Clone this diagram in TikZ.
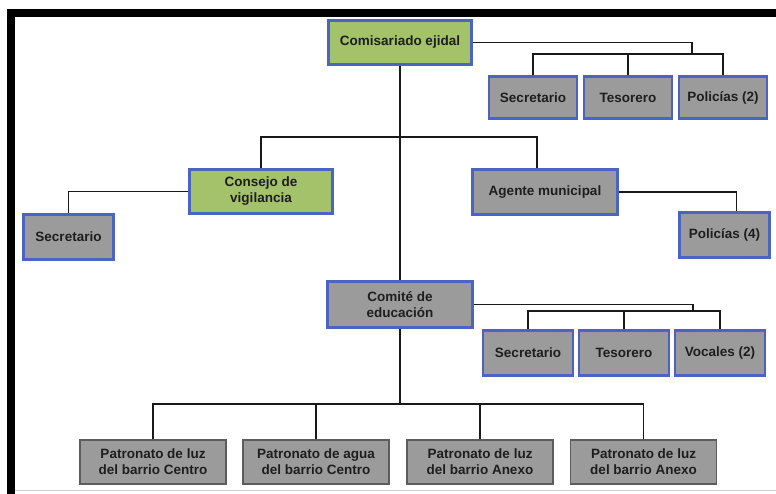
\documentclass[tikz,border=0pt]{standalone}
\usepackage{fontspec}
\setmainfont{Liberation Sans}
\definecolor{boxblue}{HTML}{4A64C4}
\definecolor{boxgreen}{HTML}{A3C26A}
\definecolor{boxgray}{HTML}{9B9B9B}
\definecolor{boxedge}{HTML}{5C5C5C}
\definecolor{txt}{HTML}{1E1E1E}
\begin{document}
\begin{tikzpicture}[x=1pt,y=-1pt,
        unit/.style={draw=boxblue, line width=2.6pt, fill=boxgray, text=txt,
            font=\fontsize{13.5}{16}\selectfont\bfseries, align=center, inner sep=0pt,
            minimum width=90pt, minimum height=45pt},
        head/.style={unit, fill=boxgreen, minimum width=143pt, minimum height=44pt},
        patron/.style={unit, draw=boxedge, line width=1.6pt, minimum width=146pt, minimum height=44pt},
        link/.style={line width=1.9pt, black!90}]
        \useasboundingbox (0,0) rectangle (776,494);
        \fill[black] (7,9) rectangle (776,17);
        \fill[black] (7,9) rectangle (15,494);
        \draw[black!20] (15,490.5) -- (776,490.5);
        % top
        \node[head] (com) at (400,42.5) {Comisariado ejidal};
        \node[unit, minimum width=88pt, minimum height=42pt] (sec1) at (533,97.5) {Secretario};
        \node[unit, minimum width=88pt, minimum height=42pt] (tes1) at (628,97.5) {Tesorero};
        \node[unit, minimum width=88pt, minimum height=42pt] (pol1) at (723,97.5) {Policías (2)};
        \coordinate (busA) at (692,54);
        % middle
        \node[head] (cons) at (261,191.5) {Consejo de\\vigilancia};
        \node[unit] (sec2) at (68.5,237) {Secretario};
        \node[unit, minimum width=145pt] (agen) at (545,192) {Agente municipal};
        \node[unit] (pol2) at (724.5,235) {Policías (4)};
        \coordinate (busB) at (400,137);
        % committee
        \node[unit, minimum width=145pt, minimum height=46pt] (edu) at (400,304.5) {Comité de\\educación};
        \node[unit] (sec3) at (528,353) {Secretario};
        \node[unit] (tes3) at (624,353) {Tesorero};
        \node[unit] (voc3) at (720,353) {Vocales (2)};
        \coordinate (busC) at (693,311);
        % bottom
        \node[patron] (patA) at (153,462) {Patronato de luz\\del barrio Centro};
        \node[patron] (patB) at (316,462) {Patronato de agua\\del barrio Centro};
        \node[patron] (patC) at (480,462) {Patronato de luz\\del barrio Anexo};
        \node[patron] (patD) at (643.5,462) {Patronato de luz\\del barrio Anexo};
        \coordinate (busD) at (400,404);
        \draw[link] (com.south) -- (edu.north);
        \draw[link] (com.east) -| (busA);
        \draw[link] (sec1.north) |- (busA) -| (pol1.north);
        \draw[link] (tes1.north) -- (tes1.north |- busA);
        \draw[link] (cons.north) |- (busB) -| ([xshift=-8pt]agen.north);
        \draw[link] (cons.west) -| (sec2.north);
        \draw[link] (agen.east) -| ([xshift=12pt]pol2.north);
        \draw[link] (edu.east) -| (busC);
        \draw[link] (sec3.north) |- (busC) -| (voc3.north);
        \draw[link] (tes3.north) -- (tes3.north |- busC);
        \draw[link] (edu.south) -- (busD);
        \draw[link] (patA.north) |- (busD) -| (patD.north);
        \draw[link] (patB.north) -- (patB.north |- busD);
        \draw[link] (patC.north) -- (patC.north |- busD);
    \end{tikzpicture}
\end{document}
